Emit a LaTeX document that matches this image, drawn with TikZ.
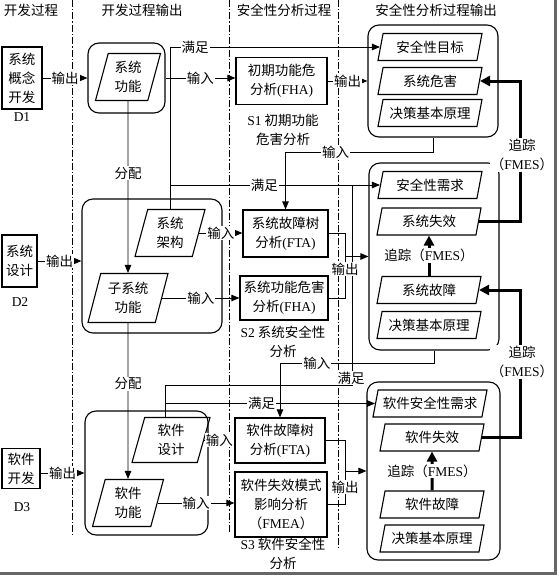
\documentclass[tikz,border=0pt]{standalone}
\usepackage{fontspec}
\setmainfont{Noto Sans CJK SC}
\newfontfamily\lat{Liberation Serif}
\usetikzlibrary{arrows.meta,shapes.geometric}

\tikzset{
  box/.style={draw,line width=1.2pt,align=center,inner sep=0pt},
  grp/.style={draw,line width=1.1pt,rounded corners=11pt},
  para/.style={draw,line width=1.1pt,trapezium,trapezium left angle=68,trapezium right angle=112,
    trapezium stretches body,align=center,inner sep=0pt},
  rpara/.style={para,minimum width=104pt,minimum height=27pt},
  txt/.style={align=center,inner sep=0pt},
  lbl/.style={fill=white,inner sep=1pt,align=center},
  ln/.style={line width=0.9pt},
  arr/.style={line width=0.9pt,-{Triangle[length=8pt,width=6.5pt]}},
  trk/.style={line width=3pt,-{Triangle[length=10pt,width=10pt]}},
  sep/.style={line width=0.9pt,dash pattern=on 7pt off 2pt on 1.5pt off 2pt},
}

\begin{document}
\begin{tikzpicture}[x=1pt,y=-1pt,font=\fontsize{13.5}{19}\selectfont]
  \useasboundingbox (0,0) rectangle (558,578);

  % Column headers
  \node (hd1) at (31,10) {开发过程};
  \node (hd2) at (142,10) {开发过程输出};
  \node (hd3) at (284,10) {安全性分析过程};
  \node (hd4) at (436,10) {安全性分析过程输出};

  % Column separators
  \draw[sep] (72,0) -- (72,535);
  \draw[sep] (229,0) -- (229,533);
  \draw[sep] (338,0) -- (338,547);

  % Development process
  \node[box,minimum width=40pt,minimum height=62pt] (d1) at (22,78) {系统\\概念\\开发};
  \node (d1l) at (22,117) {\lat D1};
  \node[box,minimum width=35pt,minimum height=52pt] (d2) at (19.5,261) {系统\\设计};
  \node (d2l) at (20,302) {\lat D2};
  \node[box,minimum width=38pt,minimum height=40pt] (d3) at (21,468.5) {软件\\开发};
  \node (d3l) at (22,507) {\lat D3};

  % Development outputs
  \node[grp,minimum width=77pt,minimum height=70pt] (lb1) at (126.5,78) {};
  \node[grp,minimum width=140pt,minimum height=134pt] (lb2) at (152,266) {};
  \node[grp,minimum width=123pt,minimum height=124pt] (lb3) at (146.5,473) {};
  \node[para,minimum width=65pt,minimum height=47pt] (sysfun) at (128,77) {系统\\功能};
  \node[para,minimum width=70pt,minimum height=47pt] (arch) at (170,233) {系统\\架构};
  \node[para,minimum width=80pt,minimum height=49pt] (subfun) at (128,298) {子系统\\功能};
  \node[para,minimum width=78pt,minimum height=45pt] (swdes) at (171,440) {软件\\设计};
  \node[para,minimum width=71pt,minimum height=47pt] (swfun) at (128,503) {软件\\功能};

  % Safety analysis process
  \node[box,minimum width=91pt,minimum height=47pt] (fha1) at (281.5,81) {初期功能危\\分析{\lat (FHA)}};
  \node[txt] (s1) at (283,130) {{\lat S1} 初期功能\\危害分析};
  \node[box,minimum width=85pt,minimum height=47pt] (fta2) at (285.5,233.5) {系统故障树\\分析{\lat (FTA)}};
  \node[box,minimum width=88pt,minimum height=44pt] (fha2) at (284,298) {系统功能危害\\分析{\lat (FHA)}};
  \node[txt] (s2) at (283,342) {{\lat S2} 系统安全性\\分析};
  \node[box,minimum width=90pt,minimum height=45pt] (fta3) at (280,440.5) {软件故障树\\分析{\lat (FTA)}};
  \node[box,minimum width=92pt,minimum height=65pt] (fmea3) at (281,504.5) {软件失效模式\\影响分析\\（{\lat FMEA}）};
  \node[txt] (s3) at (283,554) {{\lat S3} 软件安全性\\分析};

  % Safety analysis outputs
  \node[grp,minimum width=130pt,minimum height=112pt] (rb1) at (433,81) {};
  \node[grp,minimum width=130pt,minimum height=187pt] (rb2) at (434,256.5) {};
  \node[grp,minimum width=133pt,minimum height=178pt] (rb3) at (433.5,471) {};
  \node[rpara] (goal) at (430,47) {安全性目标};
  \node[rpara] (haz) at (430,81) {系统危害};
  \node[rpara] (rat1) at (430,113) {决策基本原理};
  \node[rpara] (req) at (430,185) {安全性需求};
  \node[rpara] (sysfail) at (429,221.5) {系统失效};
  \node[rpara] (sysflt) at (429,290) {系统故障};
  \node[rpara] (rat2) at (429,325) {决策基本原理};
  \node[rpara,minimum width=114pt] (swreq) at (430,403.5) {软件安全性需求};
  \node[rpara] (swfail) at (432,437.5) {软件失效};
  \node[rpara] (swflt) at (432,504.5) {软件故障};
  \node[rpara] (rat3) at (432,538.5) {决策基本原理};

  % Outputs of development
  \draw[arr] (d1.east) -- node[lbl]{输出} (d1.east -| lb1.west);
  \draw[arr] (d2.east) -- node[lbl]{输出} (d2.east -| lb2.west);
  \draw[arr] (d3.east |- lb3.west) -- node[lbl]{输出} (lb3.west);

  % Allocation
  \draw[arr] (sysfun.south) -- node[lbl,pos=0.42]{分配} (subfun.north);
  \draw[arr] (subfun.south) -- node[lbl,pos=0.39]{分配} (swfun.north);

  % Inputs to analyses
  \draw[arr] (lb1.east) -- node[lbl]{输入} (lb1.east -| fha1.west);
  \draw[arr] (arch.east) -- node[lbl]{输入} (arch.east -| fta2.west);
  \draw[arr] (subfun.east) -- node[lbl]{输入} (subfun.east -| fha2.west);
  \draw[arr] (swdes.east) -- node[lbl]{输入} (swdes.east -| fta3.west);
  \draw[arr] (swfun.east) -- node[lbl]{输入} (swfun.east -| fmea3.west);
  \draw[arr] (rb1.south) -- ++(0,15) -| node[lbl,pos=0.33]{输入} (fta2.north);
  \draw[arr] (rb2.south) -- ++(0,13) -| node[lbl,pos=0.38]{输入} (fta3.north);

  % Satisfies
  \draw[arr] (arch.north) |- node[lbl,pos=0.56]{满足} (goal.west);
  \draw[arr] (arch.north |- req.west) -- node[lbl,pos=0.45]{满足} (req.west);
  \coordinate (sat) at (165,385);
  \coordinate (satc) at (352,385);
  \draw[ln] (sat |- swdes.north) -- (sat) -- (satc) -- (satc |- req.west);
  \node[lbl] (satl) at (351,378) {满足};
  \draw[arr] (sat |- swreq.west) -- node[lbl,pos=0.46]{满足} (swreq.west);

  % Analysis outputs
  \draw[arr] (fha1.east) -- node[lbl]{输出} (fha1.east -| rb1.west);
  \coordinate (o2) at (345,257);
  \draw[ln] (fta2.east) -- (fta2.east -| o2) -- (fha2.east -| o2) -- (fha2.east);
  \draw[arr] (o2 |- rb2.west) -- (rb2.west);
  \node[lbl] (o2l) at (345,269) {输出};
  \coordinate (o3) at (345,470);
  \draw[ln] (fta3.east) -- (fta3.east -| o3) -- (fmea3.east -| o3) -- (fmea3.east);
  \draw[arr] (o3 |- rb3.west) -- (rb3.west);
  \node[lbl] (o3l) at (345,487) {输出};

  % Tracing
  \draw[trk] (sysflt.north) -- node[lbl]{追踪（{\lat FMES}）} (sysfail.south);
  \draw[trk] (swflt.north) -- node[lbl]{追踪（{\lat FMES}）} (swfail.south);
  \coordinate (tr) at (520,0);
  \draw[trk] (sysfail.east) -- (sysfail.east -| tr) -- (haz.east -| tr) -- (haz.east);
  \node[lbl] (tr1l) at (522,155) {追踪\\（{\lat FMES}）};
  \draw[trk] (swfail.east) -- (swfail.east -| tr) -- (sysflt.east -| tr) -- (sysflt.east);
  \node[lbl] (tr2l) at (522,362) {追踪\\（{\lat FMES}）};

  % Frame shadow
  \draw[black!60,line width=3pt] (555,0) -- (555,573.5) -- (0,573.5);
\end{tikzpicture}
\end{document}
